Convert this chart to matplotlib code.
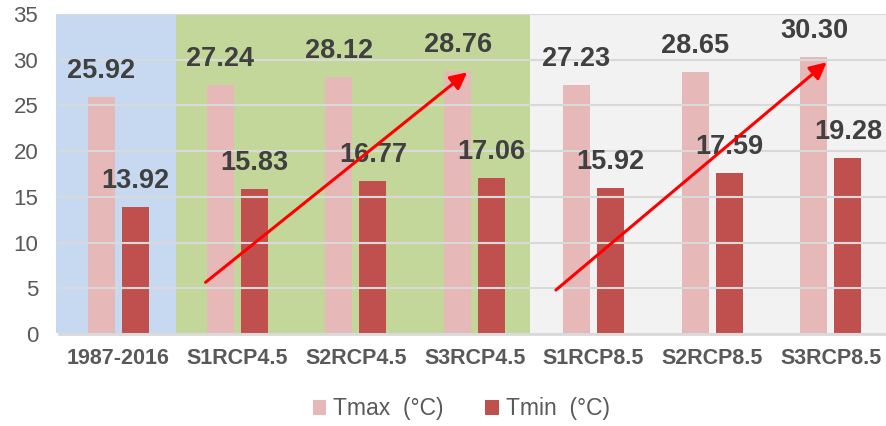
import matplotlib.pyplot as plt
from matplotlib.patches import Rectangle

plt.rcParams['font.family'] = ['Liberation Sans', 'DejaVu Sans']

periods = ["1987-2016", "S1RCP4.5", "S2RCP4.5", "S3RCP4.5", "S1RCP8.5", "S2RCP8.5", "S3RCP8.5"]
tmax = [25.92, 27.24, 28.12, 28.76, 27.23, 28.65, 30.30]
tmin = [13.92, 15.83, 16.77, 17.06, 15.92, 17.59, 19.28]

# trend arrows (start x, start y, end x, end y) in data units
arrows = [(0.734, 5.65, 2.937, 28.62), (3.684, 4.81, 5.964, 29.72)]

# shaded groups: baseline, RCP4.5, RCP8.5
bands = [(-0.525, 0.485, "#c6d9f0"), (0.485, 3.465, "#c4d79b"), (3.465, 6.6, "#f2f2f2")]

fig = plt.figure(figsize=(8.87, 4.26), dpi=100)
ax = fig.add_axes([59/887, 1 - 334/426, 1 - 59/887, 320/426])

for x0, x1, c in bands:
    ax.add_patch(Rectangle((x0, 0.15), x1 - x0, 34.85, facecolor=c, edgecolor='none',
                           zorder=0, clip_on=False))

x = list(range(len(periods)))
w = 0.227
off = 0.143
b1 = ax.bar([i - off for i in x], tmax, w, color="#e6b8b7", zorder=2, label="Tmax  (°C)")
b2 = ax.bar([i + off for i in x], tmin, w, color="#c0504d", zorder=2, label="Tmin  (°C)")

for bars, vals in [(b1, tmax), (b2, tmin)]:
    for r, v in zip(bars, vals):
        ax.annotate("%.2f" % v, (r.get_x() + r.get_width() / 2, v), xytext=(0, 26),
                    textcoords='offset pixels', ha='center', va='center',
                    fontsize=19.5, fontweight='bold', color="#404040", zorder=4)

for sx, sy, ex, ey in arrows:
    ax.annotate("", xy=(ex, ey), xytext=(sx, sy),
                arrowprops=dict(arrowstyle='-|>', color='red', lw=2.2,
                                mutation_scale=25, shrinkA=0, shrinkB=0), zorder=5)

ax.set_xlim(-0.5, 6.472)
ax.set_ylim(0, 35)
ax.set_yticks(range(0, 36, 5))
ax.yaxis.grid(True, color="#d9d9d9", lw=1.5, zorder=1)
ax.set_axisbelow(False)
ax.tick_params(axis='y', length=0, pad=15, labelsize=16, labelcolor="#595959")
ax.set_xticks(x)
ax.set_xticklabels(periods, fontsize=15.5, fontweight='bold', color="#595959")
ax.tick_params(axis='x', length=0, pad=10)
for s in ['top', 'right', 'left']:
    ax.spines[s].set_visible(False)
ax.spines['bottom'].set_color("#d9d9d9")
ax.spines['bottom'].set_linewidth(2)
ax.spines['bottom'].set_zorder(3)

fig.legend(handles=[b1, b2], loc='center', bbox_to_anchor=(0.52, 0.04), ncol=2,
           frameon=False, fontsize=16.5, labelcolor="#595959", handlelength=0.6,
           handleheight=0.6, handletextpad=0.3, columnspacing=1.8)

fig.savefig("out.png", dpi=100)
